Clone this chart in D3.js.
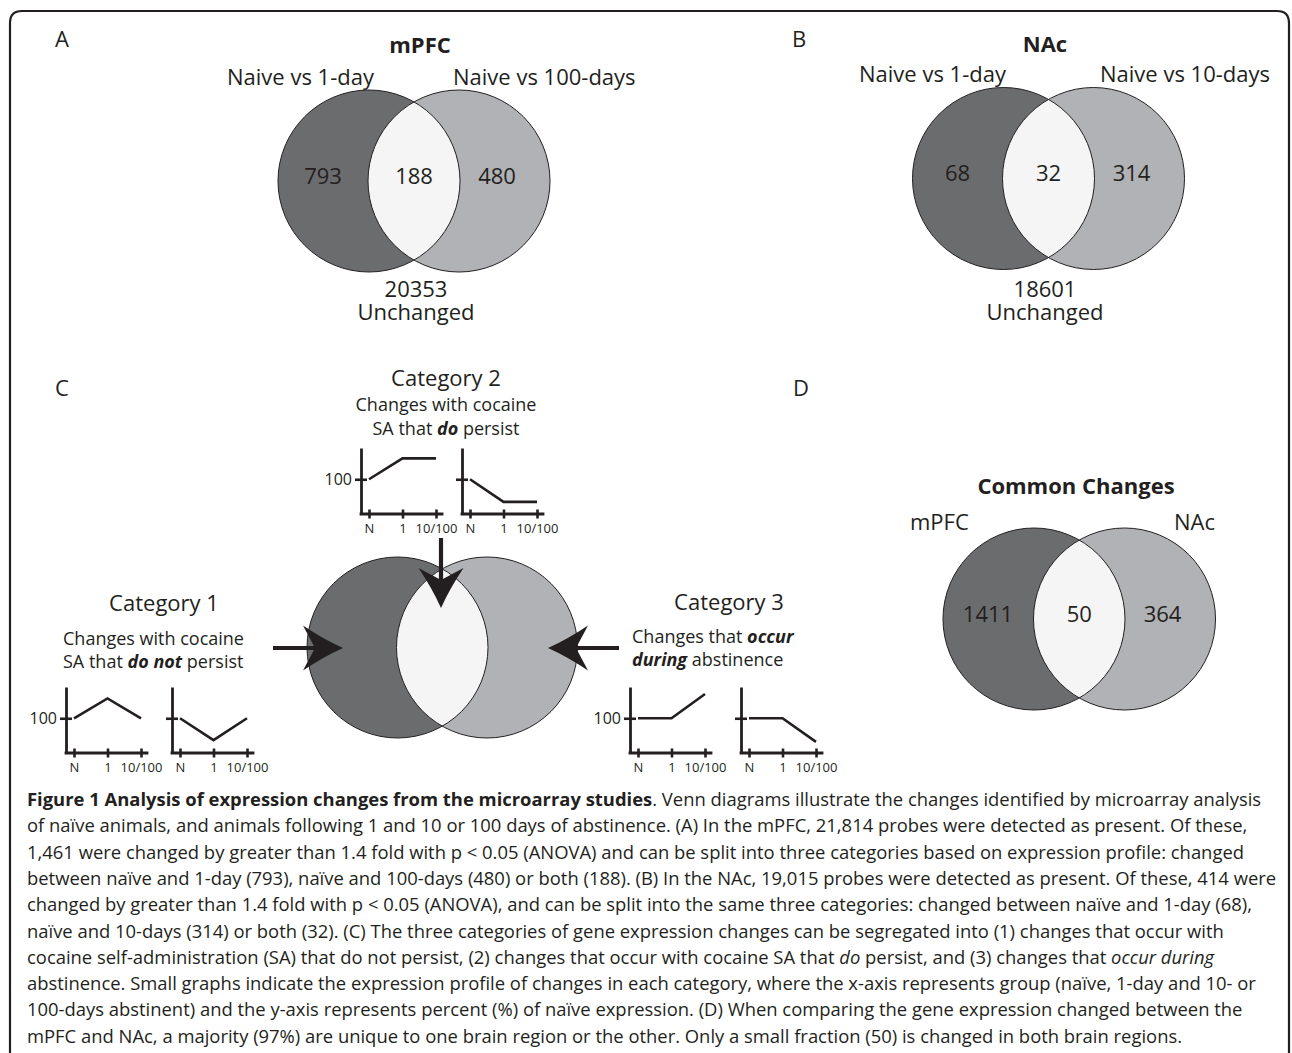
<!DOCTYPE html>
<html><head><meta charset="utf-8">
<script src="https://cdn.jsdelivr.net/npm/d3@7"></script>
<style>body{margin:0;background:#fff}</style>
</head><body>
<svg id="fig" width="1292" height="1053"></svg>
<script>
// ---------------- data ----------------
const panelLetters = ["A", "B", "C", "D"];
const vennTitles = ["mPFC", "NAc", "Common Changes"];
const vennSetLabels = [["Naive vs 1-day", "Naive vs 100-days"], ["Naive vs 1-day", "Naive vs 10-days"], ["mPFC", "NAc"]];
const vennCounts = [[793, 188, 480], [68, 32, 314], [1411, 50, 364]];
const unchangedCounts = ["20353", "18601"];
const timepoints = ["N", "1", "10/100"];
const cat1Profiles = [[100, 157, 100], [100, 37, 100]];
const cat2Profiles = [[100, 160, 160], [100, 35, 35]];
const cat3Profiles = [[100, 100, 170], [100, 100, 32]];
const categoryTitles = ["Category 1", "Category 2", "Category 3"];
const categoryText = [
  ["Changes with cocaine", "SA that ~do not~ persist"],
  ["Changes with cocaine", "SA that ~do~ persist"],
  ["Changes that ~occur~", "~during~ abstinence"]
];
const captionLines = [
  "**Figure 1 Analysis of expression changes from the microarray studies**. Venn diagrams illustrate the changes identified by microarray analysis",
  "of naïve animals, and animals following 1 and 10 or 100 days of abstinence. (A) In the mPFC, 21,814 probes were detected as present. Of these,",
  "1,461 were changed by greater than 1.4 fold with p < 0.05 (ANOVA) and can be split into three categories based on expression profile: changed",
  "between naïve and 1-day (793), naïve and 100-days (480) or both (188). (B) In the NAc, 19,015 probes were detected as present. Of these, 414 were",
  "changed by greater than 1.4 fold with p < 0.05 (ANOVA), and can be split into the same three categories: changed between naïve and 1-day (68),",
  "naïve and 10-days (314) or both (32). (C) The three categories of gene expression changes can be segregated into (1) changes that occur with",
  "cocaine self-administration (SA) that do not persist, (2) changes that occur with cocaine SA that _do_ persist, and (3) changes that _occur during_",
  "abstinence. Small graphs indicate the expression profile of changes in each category, where the x-axis represents group (naïve, 1-day and 10- or",
  "100-days abstinent) and the y-axis represents percent (%) of naïve expression. (D) When comparing the gene expression changed between the",
  "mPFC and NAc, a majority (97%) are unique to one brain region or the other. Only a small fraction (50) is changed in both brain regions."
];
const captionTargetEnds = [1278, 1245, 1243, 1274, 1250, 1244, 1215, 1264, 1244, 1180];

// ---------------- drawing ----------------
const svg = d3.select("#fig");
const ink = "#231f20";
const FONT = "'Open Sans', 'Noto Sans', sans-serif";
const DARK = "#6b6c6e", LIGHT = "#b1b2b5", LENS = "#f5f5f5";
const defs = svg.append("defs");

// rounded frame
svg.append("path")
  .attr("d", "M10,1060 V23 Q10,11 22,11 H1277 Q1289,11 1289,23 V1060")
  .attr("fill", "none").attr("stroke", ink).attr("stroke-width", 2.2);

function rich(parent, x, y, str, size, anchor) {
  const t = parent.append("text").attr("x", x).attr("y", y)
    .attr("font-family", FONT).attr("font-size", size)
    .attr("text-anchor", anchor || "middle").attr("fill", ink);
  const parts = str.split(/(\*\*.+?\*\*|_.+?_|~.+?~)/).filter(s => s.length);
  parts.forEach(p => {
    const ts = t.append("tspan");
    if (p.startsWith("**")) ts.attr("font-weight", "bold").text(p.slice(2, -2));
    else if (p.startsWith("~")) ts.attr("font-weight", "bold").attr("font-style", "italic").text(p.slice(1, -1));
    else if (p.startsWith("_")) ts.attr("font-style", "italic").text(p.slice(1, -1));
    else ts.text(p);
  });
  return t;
}
function txt(x, y, s, size, anchor, weight) {
  return svg.append("text").attr("x", x).attr("y", y).attr("font-family", FONT)
    .attr("font-size", size).attr("font-weight", weight || "normal")
    .attr("text-anchor", anchor || "middle").attr("fill", ink).text(s);
}
// two-line centred label as one text element
function twoLine(x, y, l1, l2, size, gap) {
  const t = svg.append("text").attr("x", x).attr("y", y).attr("font-family", FONT)
    .attr("font-size", size).attr("text-anchor", "middle").attr("fill", ink);
  t.append("tspan").attr("x", x).text(l1);
  t.append("tspan").attr("x", x).attr("dy", gap).text(l2);
  return t;
}

// panel letters
const letterPos = [[55, 47], [792, 47], [55, 396], [793, 396]];
panelLetters.forEach((l, i) => txt(letterPos[i][0], letterPos[i][1], l, 22, "start"));

// Venn diagrams
function venn(id, cxL, cxR, cy, r, counts) {
  const g = svg.append("g");
  defs.append("clipPath").attr("id", "clip" + id)
    .append("circle").attr("cx", cxL).attr("cy", cy).attr("r", r);
  g.append("circle").attr("cx", cxL).attr("cy", cy).attr("r", r).attr("fill", DARK);
  g.append("circle").attr("cx", cxR).attr("cy", cy).attr("r", r).attr("fill", LIGHT);
  g.append("circle").attr("cx", cxR).attr("cy", cy).attr("r", r).attr("fill", LENS)
    .attr("clip-path", `url(#clip${id})`);
  [cxL, cxR].forEach(cx => g.append("circle").attr("cx", cx).attr("cy", cy).attr("r", r)
    .attr("fill", "none").attr("stroke", ink).attr("stroke-width", 1));
  if (counts) {
    const xs = [cxL - 46, (cxL + cxR) / 2, cxR + 38];
    counts.forEach((c, i) => g.append("text").attr("x", xs[i]).attr("y", cy + 2.5)
      .attr("font-family", FONT).attr("font-size", 22).attr("text-anchor", "middle")
      .attr("fill", ink).text(c));
  }
  return g;
}

// Panel A
venn("A", 369, 459, 181, 91, vennCounts[0]);
txt(420, 53, vennTitles[0], 22, "middle", "bold");
txt(227, 85, vennSetLabels[0][0], 22, "start");
txt(453, 85, vennSetLabels[0][1], 22, "start");
twoLine(416, 297, unchangedCounts[0], "Unchanged", 22, 23);

// Panel B
venn("B", 1003.5, 1093.5, 178.5, 91, vennCounts[1]);
txt(1045, 52, vennTitles[1], 22, "middle", "bold");
txt(859, 82, vennSetLabels[1][0], 22, "start");
txt(1100, 82, vennSetLabels[1][1], 22, "start");
twoLine(1045, 297, unchangedCounts[1], "Unchanged", 22, 23);

// Panel D
venn("D", 1034, 1124.5, 619, 91, vennCounts[2]);
txt(1076, 494, vennTitles[2], 22, "middle", "bold");
txt(910, 530, vennSetLabels[2][0], 22, "start");
txt(1215, 530, vennSetLabels[2][1], 22, "end");

// Panel C central Venn
venn("C", 397.5, 487, 647.5, 90.5, null);

// arrows
function arrow(x1, y1, x2, y2) {
  const ang = Math.atan2(y2 - y1, x2 - x1);
  const len = Math.hypot(x2 - x1, y2 - y1);
  const g = svg.append("g").attr("transform", `translate(${x2},${y2}) rotate(${ang * 180 / Math.PI})`);
  g.append("line").attr("x1", -len).attr("y1", 0).attr("x2", -26).attr("y2", 0)
    .attr("stroke", ink).attr("stroke-width", 4.2);
  g.append("path").attr("d", "M0,0 Q-20,-9 -40,-22.5 L-28,0 L-40,22.5 Q-20,9 0,0 Z").attr("fill", ink);
}
arrow(273, 648, 343, 648);
arrow(619, 648, 548, 648);
arrow(441, 538, 441, 608);

// mini profile charts
function mini(x0, y0, profile, showLabel) {
  const x = d3.scalePoint().domain(timepoints).range([x0 + 8, x0 + 75]);
  const y = d3.scaleLinear().domain([0, 190]).range([y0, y0 - 66]);
  const g = svg.append("g");
  const xa = g.append("g").attr("transform", `translate(0,${y0})`)
    .call(d3.axisBottom(x).tickSizeInner(9).tickSizeOuter(0));
  xa.select(".domain").remove();
  xa.selectAll(".tick line").attr("y1", -4.5).attr("y2", 4.5).attr("stroke", ink).attr("stroke-width", 2.6);
  xa.selectAll(".tick text").attr("y", 19).attr("dy", 0).attr("font-family", FONT)
    .attr("font-size", 13).attr("fill", ink);
  g.append("line").attr("x1", x0).attr("x2", x0 + 81).attr("y1", y0).attr("y2", y0)
    .attr("stroke", ink).attr("stroke-width", 2.8).attr("stroke-linecap", "square");
  const ya = g.append("g").attr("transform", `translate(${x0},0)`)
    .call(d3.axisLeft(y).tickValues([100]).tickSizeInner(6).tickSizeOuter(0).tickFormat(d => showLabel ? d : ""));
  ya.select(".domain").attr("stroke", ink).attr("stroke-width", 2.8);
  ya.selectAll(".tick line").attr("x1", 6).attr("x2", -6).attr("stroke", ink).attr("stroke-width", 2.6);
  ya.selectAll(".tick text").attr("x", -9).attr("font-family", FONT).attr("font-size", 16).attr("fill", ink);
  g.append("path").datum(profile)
    .attr("d", d3.line().x((d, i) => x(timepoints[i])).y(d => y(d)))
    .attr("fill", "none").attr("stroke", ink).attr("stroke-width", 2.6).attr("stroke-linejoin", "miter");
}
const miniPos = [
  [[66, 753], [172, 753]],
  [[361, 514], [462, 514]],
  [[630, 753], [741, 753]]
];
[cat1Profiles, cat2Profiles, cat3Profiles].forEach((profs, c) => {
  profs.forEach((p, k) => mini(miniPos[c][k][0], miniPos[c][k][1], p, k === 0));
});

// category texts
txt(164, 611, categoryTitles[0], 22);
rich(svg, 63, 645, categoryText[0][0], 18, "start");
rich(svg, 63, 668, categoryText[0][1], 18, "start");
txt(446, 386, categoryTitles[1], 22);
rich(svg, 446, 411, categoryText[1][0], 18, "middle");
rich(svg, 446, 435, categoryText[1][1], 18, "middle");
txt(729, 610, categoryTitles[2], 22);
rich(svg, 632, 643, categoryText[2][0], 18, "start");
rich(svg, 632, 666, categoryText[2][1], 18, "start");

// caption, font size fitted to the measured line lengths
const capX = 27, capY0 = 806, capDY = 26.3;
const capG = svg.append("g");
const capTexts = captionLines.map((l, i) => rich(capG, capX, capY0 + i * capDY, l, 17, "start"));
const ratios = capTexts.map((t, i) => (captionTargetEnds[i] - capX) / t.node().getComputedTextLength()).sort((a, b) => a - b);
const med = ratios[Math.floor(ratios.length / 2)];
capTexts.forEach(t => t.attr("font-size", 17 * med));
</script>
</body></html>
